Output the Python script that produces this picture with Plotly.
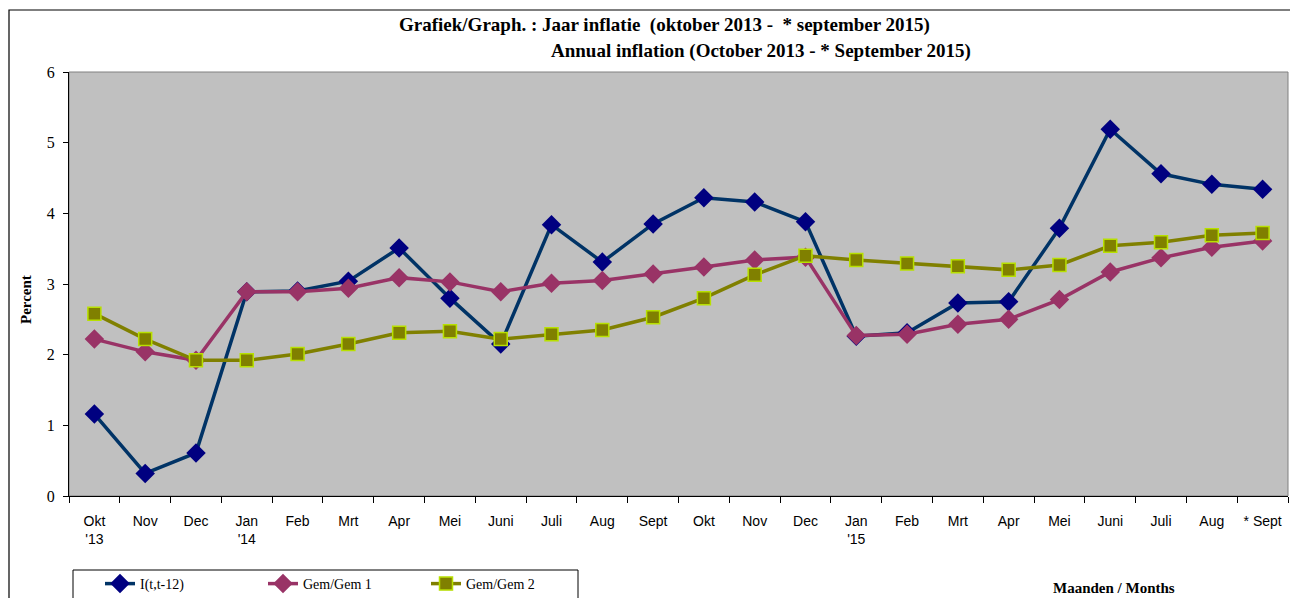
import plotly.graph_objects as go

months = ["Okt<br>'13", "Nov", "Dec", "Jan<br>'14", "Feb", "Mrt", "Apr", "Mei", "Juni", "Juli", "Aug", "Sept",
          "Okt", "Nov", "Dec", "Jan<br>'15", "Feb", "Mrt", "Apr", "Mei", "Juni", "Juli", "Aug", "* Sept"]

infl_12 = [1.16, 0.32, 0.61, 2.89, 2.90, 3.04, 3.51, 2.80, 2.15, 3.84, 3.31, 3.85,
           4.22, 4.16, 3.88, 2.26, 2.31, 2.73, 2.75, 3.79, 5.19, 4.56, 4.41, 4.34]
gem1 = [2.22, 2.04, 1.92, 2.89, 2.89, 2.94, 3.09, 3.03, 2.89, 3.01, 3.05, 3.14,
        3.24, 3.34, 3.38, 2.27, 2.29, 2.43, 2.50, 2.78, 3.17, 3.37, 3.52, 3.61]
gem2 = [2.58, 2.22, 1.92, 1.92, 2.01, 2.15, 2.31, 2.33, 2.22, 2.29, 2.35, 2.53,
        2.80, 3.13, 3.40, 3.34, 3.29, 3.25, 3.20, 3.27, 3.54, 3.59, 3.69, 3.72]

x = list(range(len(months)))

fig = go.Figure()
fig.add_trace(go.Scatter(x=x, y=infl_12, name="I(t,t-12)", mode="lines+markers",
                         line=dict(color="#003366", width=3.5),
                         marker=dict(symbol="diamond", size=15, color="#000080")))
fig.add_trace(go.Scatter(x=x, y=gem1, name="Gem/Gem 1", mode="lines+markers",
                         line=dict(color="#993366", width=3.5),
                         marker=dict(symbol="diamond", size=15, color="#993366")))
fig.add_trace(go.Scatter(x=x, y=gem2, name="Gem/Gem 2", mode="lines+markers",
                         line=dict(color="#808000", width=3.5),
                         marker=dict(symbol="square", size=13, color="#808000",
                                     line=dict(color="#B8E000", width=1.5))))

OFF = 8  # browser body margin
W, H = 1290, 590
L, T = 69 - OFF, 72 - OFF
R = W - (1288 - OFF)
B = H - (496 - OFF)
pw, ph = W - L - R, H - T - B


def px(xs):
    return (xs - OFF - L) / pw


def py(ys):
    return (H - B - (ys - OFF)) / ph


serif = "Liberation Serif"
fig.update_layout(
    width=W, height=H,
    margin=dict(l=L, r=R, t=T, b=B, autoexpand=False),
    paper_bgcolor="white",
    plot_bgcolor="#C0C0C0",
    showlegend=True,
    legend=dict(orientation="h", x=px(100), y=py(568), xanchor="left", yanchor="top",
                font=dict(family=serif, size=14, color="black"),
                entrywidth=118, entrywidthmode="pixels",
                bgcolor="rgba(0,0,0,0)", borderwidth=0),
    xaxis=dict(range=[-0.5, 23.5], tickmode="array", tickvals=x, ticktext=months,
               ticks="outside", ticklen=12, tickcolor="rgba(0,0,0,0)",
               tickfont=dict(family="Liberation Sans", size=14, color="black"),
               showgrid=False, zeroline=False, showline=True, linecolor="black", linewidth=1,
               minor=dict(tick0=-0.5, dtick=1, ticks="outside", ticklen=6, tickcolor="black",
                          showgrid=False)),
    yaxis=dict(range=[0, 6], dtick=1, ticks="outside", ticklen=5, tickcolor="black",
               ticklabelstandoff=5,
               tickfont=dict(family=serif, size=16, color="black"),
               showgrid=False, zeroline=False, showline=True, linecolor="black", linewidth=1),
    shapes=[
        dict(type="rect", xref="paper", yref="paper", x0=px(9), x1=px(1297), y0=py(640), y1=py(10),
             line=dict(color="black", width=1.2), fillcolor="rgba(0,0,0,0)", layer="below"),
        dict(type="rect", xref="paper", yref="paper", x0=0, x1=1, y0=0, y1=1,
             line=dict(color="#808080", width=1), fillcolor="rgba(0,0,0,0)", layer="below"),
        dict(type="rect", xref="paper", yref="paper", x0=px(73), x1=px(578), y0=py(640), y1=py(570),
             line=dict(color="black", width=1), fillcolor="rgba(0,0,0,0)"),
    ],
    annotations=[
        dict(text="<b>Grafiek/Graph. : Jaar inflatie  (oktober 2013 -  * september 2015)</b>",
             xref="paper", yref="paper", x=px(664), y=py(25), showarrow=False,
             font=dict(family=serif, size=19, color="black"), xanchor="center", yanchor="middle"),
        dict(text="<b>Annual inflation (October 2013 - * September 2015)</b>",
             xref="paper", yref="paper", x=px(761), y=py(51), showarrow=False,
             font=dict(family=serif, size=19, color="black"), xanchor="center", yanchor="middle"),
        dict(text="<b>Percent</b>",
             xref="paper", yref="paper", x=px(26), y=py(300), showarrow=False, textangle=-90,
             font=dict(family=serif, size=15, color="black"), xanchor="center", yanchor="middle"),
        dict(text="<b>Maanden / Months</b>",
             xref="paper", yref="paper", x=px(1114), y=py(588), showarrow=False,
             font=dict(family=serif, size=15, color="black"), xanchor="center", yanchor="middle"),
    ],
)

fig.write_html("out.html")
